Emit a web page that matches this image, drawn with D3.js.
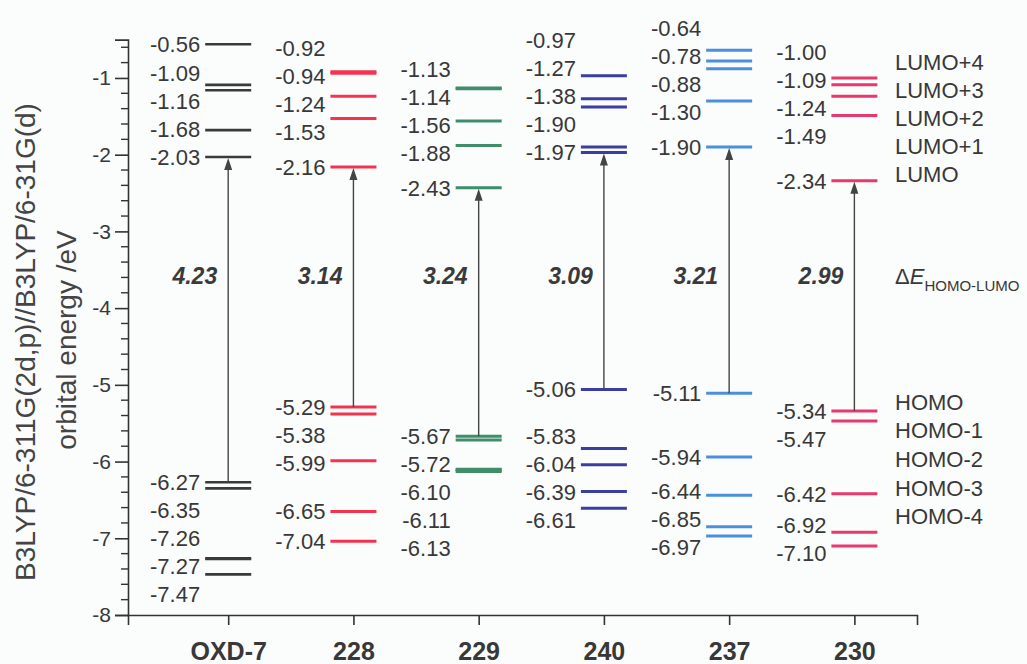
<!DOCTYPE html>
<html>
<head>
<meta charset="utf-8">
<script src="https://cdn.jsdelivr.net/npm/d3@7"></script>
<style>
  html, body { margin: 0; padding: 0; background: #fbfcfc; }
  svg { display: block; font-family: "Liberation Sans", Arial, sans-serif; }
</style>
</head>
<body>
<svg id="chart" width="1027" height="664"></svg>
<script>
// ---------------- data ----------------
const compounds = ["OXD-7", "228", "229", "240", "237", "230"];
const lumoLevels = [
  [-0.56, -1.09, -1.16, -1.68, -2.03],
  [-0.92, -0.94, -1.24, -1.53, -2.16],
  [-1.13, -1.14, -1.56, -1.88, -2.43],
  [-0.97, -1.27, -1.38, -1.90, -1.97],
  [-0.64, -0.78, -0.88, -1.30, -1.90],
  [-1.00, -1.09, -1.24, -1.49, -2.34]
];
const homoLevels = [
  [-6.27, -6.35, -7.26, -7.27, -7.47],
  [-5.29, -5.38, -5.99, -6.65, -7.04],
  [-5.67, -5.72, -6.10, -6.11, -6.13],
  [-5.06, -5.83, -6.04, -6.39, -6.61],
  [-5.11, -5.94, -6.44, -6.85, -6.97],
  [-5.34, -5.47, -6.42, -6.92, -7.10]
];
const gapValues = [4.23, 3.14, 3.24, 3.09, 3.21, 2.99];
const yTickValues = [-1, -2, -3, -4, -5, -6, -7, -8];
const lumoNames = ["LUMO+4", "LUMO+3", "LUMO+2", "LUMO+1", "LUMO"];
const homoNames = ["HOMO", "HOMO-1", "HOMO-2", "HOMO-3", "HOMO-4"];

// ---------------- styles ----------------
const colors = ["#3a3a3a", "#f5334f", "#3e8e6a", "#3b3e9e", "#4a90dc", "#e8386e"];
const textColor = "#383838";

// number format with a plain hyphen as minus sign
const locale = d3.formatLocale({ decimal: ".", thousands: ",", grouping: [3], currency: ["", ""], minus: "-" });
const f2 = locale.format(".2f");
const fInt = locale.format("d");

// ---------------- layout ----------------
const svg = d3.select("#chart");
const y = d3.scaleLinear().domain([-8, -0.5]).range([615, 39.6]);
const x = d3.scaleLinear().domain([0.2, 6.5]).range([128, 917]);
const halfW = 23;
const labelGap = 28;

// y axis
const yAxis = d3.axisLeft(y).tickValues(yTickValues).tickSize(13).tickPadding(4).tickFormat(fInt);
const gy = svg.append("g").attr("transform", `translate(${x(0.2)},0)`).call(yAxis);
gy.select(".domain").attr("stroke", "#333").attr("stroke-width", 1.6);
gy.selectAll(".tick line").attr("stroke", "#333").attr("stroke-width", 1.6);
gy.selectAll(".tick text").attr("font-size", 21).attr("fill", textColor);
// minor ticks
const minor = d3.range(-7.8, -0.5, 0.2).map(v => +v.toFixed(1)).filter(v => Math.abs(v - Math.round(v)) > 0.01);
gy.selectAll(".minor").data(minor).join("line").attr("class", "minor")
  .attr("x1", -7).attr("x2", 0).attr("y1", d => y(d)).attr("y2", d => y(d))
  .attr("stroke", "#333").attr("stroke-width", 1.4);

// x axis
const xAxis = d3.axisBottom(x).tickValues(d3.range(1, compounds.length + 1))
  .tickSize(10).tickPadding(17).tickFormat(d => compounds[d - 1]);
const gx = svg.append("g").attr("transform", `translate(0,${y(-8)})`).call(xAxis);
gx.select(".domain").attr("stroke", "#333").attr("stroke-width", 1.6);
gx.selectAll(".tick line").attr("stroke", "#333").attr("stroke-width", 1.6);
gx.selectAll(".tick text").attr("font-size", 25).attr("font-weight", "bold").attr("fill", textColor);

// axis titles
svg.append("text")
  .attr("transform", `translate(25,${342}) rotate(-90)`)
  .attr("text-anchor", "middle").attr("dominant-baseline", "central")
  .attr("font-size", 28).attr("fill", "#444")
  .text("B3LYP/6-311G(2d,p)//B3LYP/6-31G(d)");
svg.append("text")
  .attr("transform", `translate(66,${340}) rotate(-90)`)
  .attr("text-anchor", "middle").attr("dominant-baseline", "central")
  .attr("font-size", 28).attr("fill", "#444")
  .text("orbital energy /eV");

// label de-overlap: clusters, with an anchor label pinned at its level
function layoutLabels(values, anchorIdx) {
  const items = values.map((v, i) => ({ i, d: y(v) })).sort((a, b) => a.d - b.d);
  const clusters = [];
  function place(c) {
    const k = c.items.findIndex(it => it.i === anchorIdx);
    if (k >= 0) c.top = c.items[k].d - k * labelGap;
    else c.top = d3.mean(c.items, it => it.d) - (c.items.length - 1) * labelGap / 2;
  }
  items.forEach(it => {
    const c = { items: [it] };
    place(c);
    clusters.push(c);
    while (clusters.length > 1) {
      const b = clusters[clusters.length - 1], a = clusters[clusters.length - 2];
      if (a.top + a.items.length * labelGap > b.top + 0.01) {
        clusters.pop(); clusters.pop();
        const m = { items: a.items.concat(b.items) };
        place(m);
        clusters.push(m);
      } else break;
    }
  });
  const pos = new Array(values.length);
  clusters.forEach(c => c.items.forEach((it, k) => { pos[it.i] = c.top + k * labelGap; }));
  return pos;
}

// columns
compounds.forEach((name, ci) => {
  const cx = x(ci + 1);
  const g = svg.append("g");
  const lumo = lumoLevels[ci], homo = homoLevels[ci];
  const allLevels = lumo.concat(homo);
  g.selectAll("line.level").data(allLevels).join("line").attr("class", "level")
    .attr("x1", cx - halfW).attr("x2", cx + halfW)
    .attr("y1", d => y(d)).attr("y2", d => y(d))
    .attr("stroke", colors[ci]).attr("stroke-width", ci === 0 ? 2.6 : 3);

  const lumoPos = layoutLabels(lumo, lumo.length - 1);
  const homoPos = layoutLabels(homo, 0);
  const labels = lumo.map((v, i) => ({ v, p: lumoPos[i] }))
    .concat(homo.map((v, i) => ({ v, p: homoPos[i] })));
  g.selectAll("text.val").data(labels).join("text").attr("class", "val")
    .attr("x", cx - 28).attr("y", d => d.p).attr("dy", "0.36em")
    .attr("text-anchor", "end").attr("font-size", 22).attr("fill", textColor)
    .text(d => f2(d.v));

  // arrow HOMO -> LUMO
  const yH = y(homo[0]), yL = y(lumo[lumo.length - 1]);
  g.append("line").attr("x1", cx).attr("x2", cx).attr("y1", yH).attr("y2", yL + 10)
    .attr("stroke", "#444").attr("stroke-width", 1.4);
  g.append("path")
    .attr("d", `M${cx},${yL + 1} L${cx - 4},${yL + 13} L${cx + 4},${yL + 13} Z`)
    .attr("fill", "#444");

  // gap value
  g.append("text").attr("x", cx - 11).attr("y", y(-3.58)).attr("dy", "0.36em")
    .attr("text-anchor", "end").attr("font-size", 23).attr("font-weight", "bold")
    .attr("font-style", "italic").attr("fill", "#3a3a3a")
    .text(f2(gapValues[ci]));
});

// right-side orbital names
const nameX = 895;
svg.selectAll("text.lname").data(lumoNames).join("text").attr("class", "lname")
  .attr("x", nameX).attr("y", (d, i) => y(-2.25) - (lumoNames.length - 1 - i) * labelGap)
  .attr("dy", "0.36em").attr("font-size", 22).attr("fill", textColor).text(d => d);
svg.selectAll("text.hname").data(homoNames).join("text").attr("class", "hname")
  .attr("x", nameX).attr("y", (d, i) => y(-5.22) + i * 28.7)
  .attr("dy", "0.36em").attr("font-size", 22).attr("fill", textColor).text(d => d);

// Delta E label
const de = svg.append("text").attr("x", nameX).attr("y", y(-3.58)).attr("dy", "0.36em")
  .attr("font-size", 22).attr("fill", textColor);
de.append("tspan").text("Δ");
de.append("tspan").attr("font-style", "italic").text("E");
de.append("tspan").attr("font-size", 15).attr("dy", "0.45em").text("HOMO-LUMO");
</script>
</body>
</html>
